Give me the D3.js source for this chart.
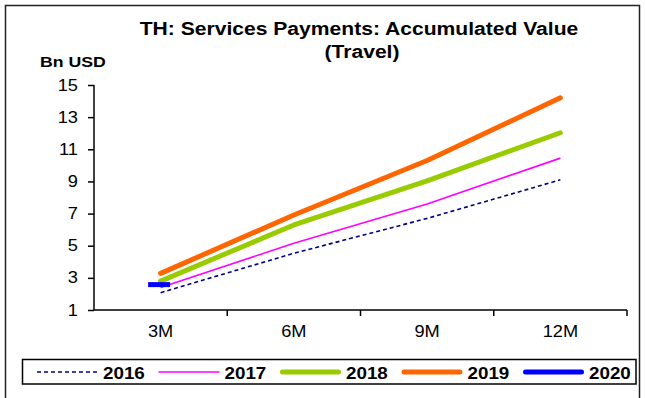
<!DOCTYPE html>
<html>
<head>
<meta charset="utf-8">
<script src="https://cdn.jsdelivr.net/npm/d3@7"></script>
<style>
  html, body { margin: 0; padding: 0; background: #fff; }
  svg { display: block; }
  text { font-family: "Liberation Sans", Arial, sans-serif; fill: #000; }
</style>
</head>
<body>
<svg id="chart" width="645" height="398"></svg>
<script>
// Accumulated travel services payments, billions of USD
const periods = ["3M", "6M", "9M", "12M"];
const years = ["2016", "2017", "2018", "2019", "2020"];
const values2016 = [2.08, 4.53, 6.70, 9.10];
const values2017 = [2.40, 5.15, 7.60, 10.45];
const values2018 = [2.80, 6.29, 9.03, 12.03];
const values2019 = [3.28, 6.91, 10.30, 14.20];
const values2020 = [2.58];
const yTicks = [1, 3, 5, 7, 9, 11, 13, 15];

const seriesStyle = {
  "2016": { color: "#000080", width: 1.6, dash: "4,3", cap: "butt" },
  "2017": { color: "#FF00FF", width: 1.6, dash: null, cap: "butt" },
  "2018": { color: "#99CC00", width: 5, dash: null, cap: "round" },
  "2019": { color: "#FF6600", width: 5, dash: null, cap: "round" },
  "2020": { color: "#0000FF", width: 5, dash: null, cap: "butt" }
};
const seriesValues = [values2016, values2017, values2018, values2019, values2020];
const series = years.map((y, i) => ({ year: y, values: seriesValues[i] }));

const svg = d3.select("#chart");
const SX = 1.14; // horizontal stretch applied to all text

// outer frame
svg.append("rect")
  .attr("x", 5.5).attr("y", 5.5).attr("width", 634).attr("height", 420)
  .attr("fill", "none").attr("stroke", "#222").attr("stroke-width", 1.5);

function stretchedText(g, x, y, str, opts) {
  return g.append("text")
    .attr("transform", `translate(${x},${y}) scale(${SX},1)`)
    .attr("text-anchor", opts.anchor || "start")
    .style("font-size", opts.size + "px")
    .style("font-weight", opts.weight || "normal")
    .text(str);
}

// title
stretchedText(svg, 359, 35, "TH: Services Payments: Accumulated Value", { size: 18.5, weight: "bold", anchor: "middle" });
stretchedText(svg, 362, 58, "(Travel)", { size: 18.5, weight: "bold", anchor: "middle" });
stretchedText(svg, 40, 66.5, "Bn USD", { size: 15.5, weight: "bold" });

// scales
const plot = { left: 94, right: 627, top: 85, bottom: 310 };
const x = d3.scaleBand().domain(periods).range([plot.left, plot.right]);
const y = d3.scaleLinear().domain([1, 15]).range([plot.bottom, plot.top]);

// y axis
const yAxis = svg.append("g").attr("transform", `translate(${plot.left},0)`)
  .call(d3.axisLeft(y).tickValues(yTicks).tickSize(6).tickFormat(d3.format("d")));
yAxis.select(".domain").attr("stroke", "#000").attr("stroke-width", 1.5).attr("d", `M0,${plot.top}V${plot.bottom}`);
yAxis.selectAll(".tick line").attr("stroke", "#000").attr("stroke-width", 1.5);
yAxis.selectAll(".tick text").remove();
yTicks.forEach(v => {
  stretchedText(yAxis, -16, y(v) + 5.6, String(v), { size: 16, anchor: "end" });
});

// x axis: ticks at category boundaries
const xAxis = svg.append("g");
xAxis.append("line")
  .attr("x1", plot.left).attr("x2", plot.right)
  .attr("y1", plot.bottom).attr("y2", plot.bottom)
  .attr("stroke", "#000").attr("stroke-width", 1.5);
const boundaries = periods.map(p => x(p)).concat([x(periods[periods.length - 1]) + x.bandwidth()]);
xAxis.selectAll("line.tk").data(boundaries.slice(1)).join("line")
  .attr("class", "tk")
  .attr("x1", d => d).attr("x2", d => d)
  .attr("y1", plot.bottom).attr("y2", plot.bottom + 6)
  .attr("stroke", "#000").attr("stroke-width", 1.5);
periods.forEach(p => {
  stretchedText(xAxis, x(p) + x.bandwidth() / 2, 336.5, p, { size: 16, anchor: "middle" });
});

// series lines
const line = d3.line()
  .x((d, i) => x(periods[i]) + x.bandwidth() / 2)
  .y(d => y(d));

series.filter(s => s.values.length > 1).forEach(s => {
  const st = seriesStyle[s.year];
  svg.append("path")
    .datum(s.values)
    .attr("d", line)
    .attr("fill", "none")
    .attr("stroke", st.color)
    .attr("stroke-width", st.width)
    .attr("stroke-dasharray", st.dash)
    .attr("stroke-linecap", st.cap)
    .attr("stroke-linejoin", "round");
});

// single-point series drawn as a dash marker
series.filter(s => s.values.length === 1).forEach(s => {
  const st = seriesStyle[s.year];
  const cx = x(periods[0]) + x.bandwidth() / 2 - 1.5;
  svg.append("line")
    .attr("x1", cx - 11).attr("x2", cx + 11)
    .attr("y1", y(s.values[0])).attr("y2", y(s.values[0]))
    .attr("stroke", st.color).attr("stroke-width", st.width);
});

// legend
const legend = svg.append("g");
legend.append("rect")
  .attr("x", 22.5).attr("y", 359.5).attr("width", 613.5).attr("height", 24.5)
  .attr("fill", "#fff").attr("stroke", "#000").attr("stroke-width", 1.5);
const legendX = d3.scaleLinear().domain([0, years.length - 1]).range([37, 523]);
years.forEach((yr, i) => {
  const st = seriesStyle[yr];
  const x0 = legendX(i);
  const thick = st.width > 3;
  legend.append("line")
    .attr("x1", x0 + (thick ? 2.5 : 0)).attr("x2", x0 + 61 - (thick ? 2.5 : 0))
    .attr("y1", 372).attr("y2", 372)
    .attr("stroke", st.color)
    .attr("stroke-width", st.width)
    .attr("stroke-dasharray", st.dash)
    .attr("stroke-linecap", thick ? "round" : "butt");
  stretchedText(legend, x0 + 66, 378.5, yr, { size: 16.5, weight: "bold" });
});
</script>
</body>
</html>
